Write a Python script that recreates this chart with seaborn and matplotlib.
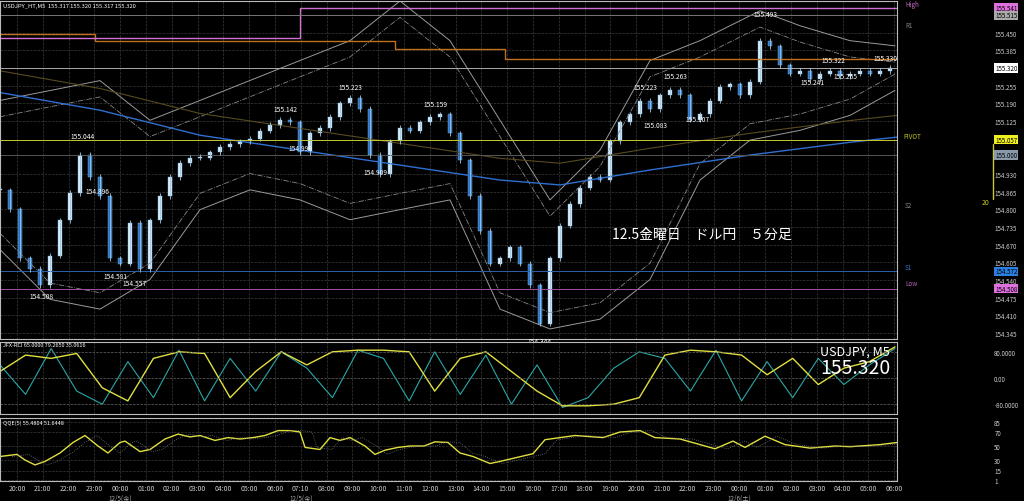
import numpy as np
import matplotlib
matplotlib.use("Agg")
import matplotlib.pyplot as plt
import seaborn as sns

# --- data (USDJPY M5, 12/5 20:00 - 12/7 06:00) ---
closes = [154.87, 154.80, 154.62, 154.58, 154.52, 154.63, 154.76, 154.86, 155.00, 154.92,
          154.85, 154.62, 154.60, 154.75, 154.58, 154.76, 154.85, 154.92, 154.97, 154.99,
          154.99, 155.01, 155.03, 155.04, 155.05, 155.06, 155.09, 155.11, 155.13, 155.12,
          155.01, 155.08, 155.10, 155.14, 155.19, 155.21, 155.17, 155.00, 154.93, 155.05,
          155.10, 155.09, 155.12, 155.14, 155.15, 155.08, 154.98, 154.85, 154.72, 154.60,
          154.62, 154.66, 154.60, 154.52, 154.38, 154.62, 154.74, 154.82, 154.88, 154.92,
          154.91, 155.05, 155.12, 155.15, 155.20, 155.17, 155.22, 155.24, 155.22, 155.13,
          155.15, 155.20, 155.25, 155.26, 155.22, 155.27, 155.42, 155.40, 155.33, 155.30,
          155.31, 155.28, 155.30, 155.31, 155.29, 155.30, 155.31, 155.30, 155.31, 155.32]

upper_px = [0, 100, 150, 200, 300, 350, 400, 450, 500, 550, 600, 650, 700, 760, 800, 850, 895]
upper_band = [155.201, 155.274, 155.128, 155.201, 155.348, 155.421, 155.567, 155.421, 155.128,
              154.835, 155.018, 155.348, 155.421, 155.531, 155.476, 155.421, 155.402]
lower_px = [0, 50, 100, 150, 200, 250, 300, 350, 400, 450, 500, 550, 600, 650, 700, 750, 800, 850, 895]
lower_band = [154.652, 154.469, 154.433, 154.542, 154.799, 154.872, 154.835, 154.762, 154.799,
              154.835, 154.433, 154.360, 154.396, 154.542, 154.908, 155.055, 155.091, 155.146, 155.238]
ma_px = [0, 100, 200, 300, 400, 500, 560, 650, 750, 850, 897]
ma200 = [155.230, 155.165, 155.073, 155.018, 154.963, 154.908, 154.890, 154.945, 155.000, 155.047, 155.066]

step_px = [0, 95, 95, 395, 395, 505, 505, 897]
step_level = [155.446, 155.446, 155.421, 155.421, 155.391, 155.391, 155.355, 155.355]
high_px = [0, 300, 300, 897]
high_level = [155.432, 155.432, 155.541, 155.541]

price_ticks = [155.450, 155.385, 155.320, 155.255, 155.190, 155.125, 155.057, 155.000, 154.930,
               154.865, 154.800, 154.735, 154.670, 154.605, 154.572, 154.540, 154.508, 154.475,
               154.410, 154.345]
boxed = [(155.541, "#e070e0"), (155.515, "#aaaaaa"), (155.320, "#ffffff"), (155.057, "#f0f020"),
         (155.000, "#8899aa"), (154.572, "#2a7fe0"), (154.508, "#e070e0")]
marks = [(83, 155.044), (97, 154.896), (42, 154.508), (115, 154.581), (135, 154.557),
         (285, 155.142), (300, 154.999), (350, 155.223), (375, 154.909), (435, 155.159),
         (540, 154.344), (645, 155.223), (655, 155.083), (675, 155.263), (698, 155.107),
         (765, 155.493), (833, 155.322), (812, 155.241), (845, 155.265), (885, 155.330)]

rci_slow = [20, 70, 60, 75, -30, -70, 60, 80, 75, -60, 20, 80, 40, 80, 85, 85, 80, -40,
            60, 80, 20, -40, -85, -85, -80, -60, 70, 85, 80, 70, 10, 60, -20, 30, 50, 95]
rci_fast = [40, -50, 90, -40, -80, 50, -60, 85, -70, 60, -40, 80, 30, -60, 85, 60, -70, 80,
            -50, 70, -80, 40, -90, -60, 30, 80, 60, -40, 85, -70, 50, -60, 60, -20, 40, 90]

qqe_px = [0, 17, 25, 35, 45, 60, 73, 85, 98, 108, 120, 125, 140, 150, 165, 178, 190, 200, 215,
          228, 240, 253, 265, 278, 290, 300, 305, 320, 330, 340, 350, 365, 375, 385, 398, 410,
          424, 435, 448, 460, 473, 490, 500, 533, 545, 575, 603, 620, 640, 655, 680, 705, 715,
          733, 745, 765, 785, 810, 835, 850, 880, 897]
qqe_fast = [35, 38, 30, 23, 28, 40, 55, 65, 50, 40, 55, 57, 42, 45, 60, 67, 63, 65, 58, 62, 60,
            62, 65, 72, 72, 70, 48, 45, 62, 58, 62, 50, 38, 44, 48, 50, 50, 56, 55, 40, 35, 25,
            28, 39, 59, 65, 62, 70, 72, 62, 60, 50, 46, 57, 48, 64, 52, 47, 50, 49, 52, 55]

hour_labels = ["20:00", "21:00", "22:00", "23:00", "00:00", "01:00", "02:00", "03:00", "04:00",
               "05:00", "06:00", "07:10", "08:00", "09:00", "10:00", "11:00", "12:00", "13:00",
               "14:00", "15:00", "16:00", "17:00", "18:00", "19:00", "20:00", "21:00", "22:00",
               "23:00", "00:00", "01:00", "02:00", "03:00", "04:00", "05:00", "06:00"]

sns.set_style("dark", {"axes.facecolor": "black", "figure.facecolor": "black"})
plt.rcParams["font.family"] = ["Noto Sans CJK JP", "DejaVu Sans"]

fig = plt.figure(figsize=(10.24, 5.02), dpi=100)
W = 897 / 1024
ax = fig.add_axes([0, 1 - 340 / 502, W, 338 / 502])
ax2 = fig.add_axes([0, 1 - 415 / 502, W, 72 / 502])
ax3 = fig.add_axes([0, 1 - 482 / 502, W, 63 / 502])

grid_c = "#3a3a3a"
for a in (ax, ax2, ax3):
    a.set_facecolor("black")
    a.set_xlim(0, 897)
    for s in a.spines.values():
        s.set_color("#bbbbbb")
        s.set_linewidth(0.8)
    a.tick_params(colors="#cccccc", labelsize=4.5, length=0)
    a.tick_params(axis="y", pad=70)
    a.yaxis.tick_right()
    hour_px = [17 + 25.8 * i for i in range(len(hour_labels))]
    a.set_xticks(hour_px)
    a.grid(True, axis="x", color=grid_c, linestyle="--", linewidth=0.5)

# --- main price panel ---
ax.set_ylim(154.323, 155.567)
ax.set_yticks(price_ticks)
boxed_vals = [b[0] for b in boxed]
ax.set_yticklabels(["" if p in boxed_vals else f"{p:.3f}" for p in price_ticks])
ax.grid(True, axis="y", color=grid_c, linestyle="--", linewidth=0.5)
ax.set_xticklabels([])

ax.plot(upper_px, upper_band, color="#9a9a9a", lw=0.7)
ax.plot(lower_px, lower_band, color="#9a9a9a", lw=0.7)
ax.plot(upper_px, [u - 0.06 for u in upper_band], color="#888888", lw=0.6, ls="-.")
ax.plot(lower_px, [l + 0.06 for l in lower_band], color="#888888", lw=0.6, ls="-.")
ax.plot(ma_px, ma200, color="#2f6fd0", lw=1.0)
ax.plot(ma_px, [m + 0.08 for m in ma200], color="#5a4a20", lw=0.8)
ax.plot(step_px, step_level, color="#c0701c", lw=1.0)
ax.plot(high_px, high_level, color="#d070d0", lw=1.0)

for lvl, c in [(155.057, "#c8c830"), (155.000, "#555555"), (154.572, "#2a5fa8"),
               (154.508, "#a050a0"), (155.320, "#aaaaaa"), (155.515, "#777777")]:
    ax.axhline(lvl, color=c, lw=0.7)
for lbl, y, c in [("R1", 155.47, "#888888"), ("PIVOT", 155.062, "#c8c830"), ("S2", 154.81, "#888888"),
                  ("S1", 154.58, "#3a6fc8"), ("Low", 154.52, "#b060b0"), ("High", 155.548, "#d070d0")]:
    ax.text(905 if lbl != "PIVOT" else 903, y, lbl, color=c, fontsize=4.5, clip_on=False)

xs = np.arange(len(closes)) * 10.0
opens = [closes[0]] + closes[:-1]
ups = [c >= o for c, o in zip(closes, opens)]
bottoms = [min(o, c) for o, c in zip(opens, closes)]
heights = [max(abs(c - o), 0.004) for o, c in zip(opens, closes)]
ax.vlines(xs, [b - 0.01 for b in bottoms], [b + h + 0.01 for b, h in zip(bottoms, heights)],
          color="#9cc8e8", lw=0.6)
ax.bar(xs, heights, bottom=bottoms, width=4,
       color=["#d8ecf8" if u else "#2f72c0" for u in ups],
       edgecolor="#7fb6e0", linewidth=0.3)

for x, p in marks:
    ax.text(x, p + (0.02 if p > 154.9 or x > 600 else -0.035), f"{p:.3f}",
            color="white", fontsize=4.8, ha="center")

ax.text(612, 154.695, "12.5金曜日　ドル円　５分足", color="white", fontsize=10)
ax.text(3, 155.545, "USDJPY_HT,M5  155.317 155.320 155.317 155.320", color="white", fontsize=4.2)
ax.plot([993, 993], [154.84, 155.04], color="#c8c830", lw=1, clip_on=False)
ax.text(989, 154.82, "20", color="#c8c830", fontsize=5, ha="right")

for p, fc in boxed:
    ax.text(995, p, f"{p:.3f}", fontsize=4.5, color="black", va="center", clip_on=False,
            bbox=dict(boxstyle="square,pad=0.1", fc=fc, ec="none"))

# --- RCI panel ---
rx = np.linspace(0, 895, len(rci_slow))
ax2.plot(rx, rci_fast, color="#2aa8a8", lw=0.8)
ax2.plot(rx, rci_slow, color="#e0e040", lw=1.0)
ax2.set_ylim(-110, 110)
ax2.set_yticks([80, 0, -80])
ax2.set_yticklabels(["80.0000", "0.00", "-80.0000"])
for v in (80, 0, -80):
    ax2.axhline(v, color="#666666", lw=0.5, ls="--")
ax2.set_xticklabels([])
ax2.text(3, 98, "JFX-RCI 65.0000 79.2650 35.0616", color="white", fontsize=4)
ax2.text(890, 70, "USDJPY, M5", color="white", fontsize=9, ha="right")
ax2.text(890, 15, "155.320", color="white", fontsize=14, ha="right")

# --- QQE panel ---
sns.lineplot(x=qqe_px, y=qqe_fast, ax=ax3, color="#e0e040", lw=1.0)
ax3.plot([p + 12 for p in qqe_px], qqe_fast, color="#777777", lw=0.6, ls=":")
ax3.set_ylim(0, 90)
ax3.set_yticks([85, 70, 50, 30, 15, 1])
ax3.grid(True, axis="y", color=grid_c, linestyle="--", linewidth=0.5)
ax3.set_xticklabels(hour_labels)
ax3.tick_params(axis="x", labelsize=5, pad=2)
ax3.text(3, 82, "QQE(5) 55.4804 51.6448", color="white", fontsize=4)
for i, d in [(4, "12/5(金)"), (11, "12/5(金)"), (28, "12/6(土)")]:
    ax3.text(17 + 25.8 * i, -27, d, color="#aaaaaa", fontsize=4.5, ha="center", clip_on=False)

fig.savefig("out.png", dpi=100, facecolor="black")
